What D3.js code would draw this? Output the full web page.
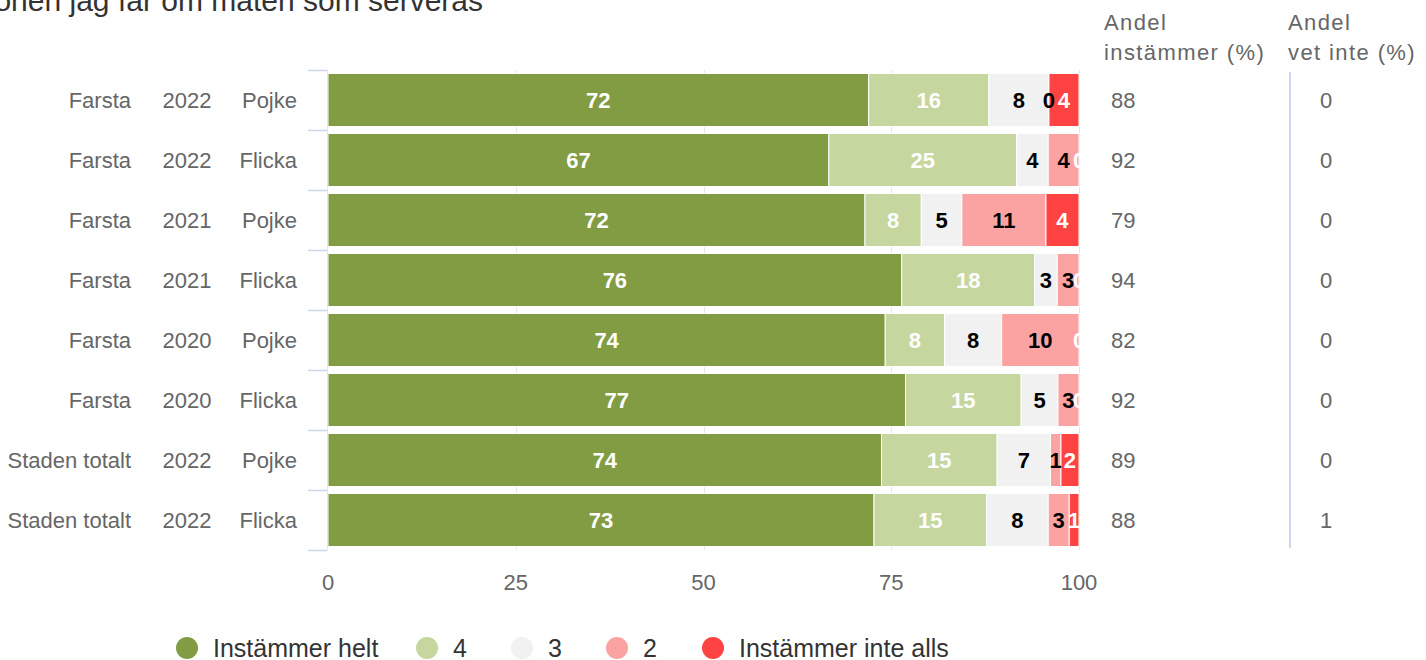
<!DOCTYPE html>
<html>
<head>
<meta charset="utf-8">
<script src="https://cdn.jsdelivr.net/npm/d3@7"></script>
<style>
  html, body { margin: 0; padding: 0; background: #fff; }
  svg { display: block; font-family: "Liberation Sans", Arial, Helvetica, sans-serif; }
</style>
</head>
<body>
<svg id="chart" width="1426" height="660"></svg>
<script>
// ---- data ----
const titleText = "onen jag får om maten som serveras";
const units = ["Farsta", "Farsta", "Farsta", "Farsta", "Farsta", "Farsta", "Staden totalt", "Staden totalt"];
const years = ["2022", "2022", "2021", "2021", "2020", "2020", "2022", "2022"];
const genders = ["Pojke", "Flicka", "Pojke", "Flicka", "Pojke", "Flicka", "Pojke", "Flicka"];
const seriesNames = ["Instämmer helt", "4", "3", "2", "Instämmer inte alls"];
const helt = [72, 66.7, 71.5, 76.4, 74.2, 76.9, 73.7, 72.7];
const fyra = [16, 25, 7.5, 17.7, 7.9, 15.4, 15.4, 15.0];
const tre = [8, 4.2, 5.4, 3.0, 7.6, 4.9, 7.1, 8.2];
const tva = [0, 4.1, 11.2, 2.9, 10.3, 2.8, 1.4, 2.8];
const inteAlls = [4, 0, 4.4, 0, 0, 0, 2.4, 1.3];
const andelInstammer = [88, 92, 79, 94, 82, 92, 89, 88];
const andelVetInte = [0, 0, 0, 0, 0, 0, 0, 1];
const xTicks = [0, 25, 50, 75, 100];
const colHeaders = [["Andel", "instämmer (%)"], ["Andel", "vet inte (%)"]];

// ---- styles ----
const colors = ["#829c43", "#c5d69e", "#f1f1f1", "#fba3a3", "#ff4242"];
const labelColors = ["#ffffff", "#ffffff", "#000000", "#000000", "#ffffff"];
const seriesData = [helt, fyra, tre, tva, inteAlls];

const svg = d3.select("#chart");
const plot = { left: 328, right: 1079, top: 70, bottom: 550 };

const x = d3.scaleLinear().domain([0, 100]).range([plot.left, plot.right]);
const idx = d3.range(units.length);
const y = d3.scaleBand().domain(idx).range([plot.top, plot.bottom])
  .paddingInner(0.117).paddingOuter(0.0585);
const rowStep = (plot.bottom - plot.top) / idx.length;

// title
svg.append("text").attr("x", 483).attr("y", 11).attr("text-anchor", "end")
  .attr("font-size", 30).attr("fill", "#333").text(titleText);

// gridlines
svg.append("g").selectAll("line").data(xTicks.slice(1)).join("line")
  .attr("x1", d => Math.round(x(d)) + 0.5).attr("x2", d => Math.round(x(d)) + 0.5)
  .attr("y1", plot.top).attr("y2", plot.bottom)
  .attr("stroke", "#e6e6e6").attr("stroke-width", 1);

// stacked bars
const stackRows = idx.map(i => {
  const o = { i };
  seriesNames.forEach((s, k) => o[s] = seriesData[k][i]);
  return o;
});
const stacked = d3.stack().keys(seriesNames)(stackRows);

const defs = svg.append("defs");
defs.append("clipPath").attr("id", "plotclip").append("rect")
  .attr("x", plot.left - 20).attr("y", plot.top).attr("width", plot.right - plot.left + 21).attr("height", plot.bottom - plot.top);

const barG = svg.append("g");
stacked.forEach((layer, k) => {
  barG.append("g").selectAll("rect").data(layer).join("rect")
    .attr("x", d => x(d[0]))
    .attr("y", d => y(d.data.i))
    .attr("width", d => Math.max(0, x(d[1]) - x(d[0])))
    .attr("height", y.bandwidth())
    .attr("fill", colors[k])
    .attr("stroke", "#fff").attr("stroke-width", 1);
});

const lblG = svg.append("g").attr("clip-path", "url(#plotclip)");
stacked.forEach((layer, k) => {
  lblG.append("g").selectAll("text").data(layer).join("text")
    .attr("x", d => (x(d[0]) + x(d[1])) / 2)
    .attr("y", d => y(d.data.i) + y.bandwidth() / 2)
    .attr("dy", "0.35em")
    .attr("text-anchor", "middle")
    .attr("font-size", 22).attr("font-weight", "bold")
    .attr("fill", labelColors[k])
    .text(d => Math.round(d[1] - d[0]));
});

// category axis
svg.append("line").attr("x1", 327.5).attr("x2", 327.5).attr("y1", plot.top).attr("y2", plot.bottom)
  .attr("stroke", "#e3e6ec").attr("stroke-width", 1);
svg.append("g").selectAll("line").data(d3.range(idx.length + 1)).join("line")
  .attr("x1", 308).attr("x2", 327)
  .attr("y1", d => plot.top + d * rowStep + 0.5).attr("y2", d => plot.top + d * rowStep + 0.5)
  .attr("stroke", "#ccd6eb").attr("stroke-width", 1.5);

const catG = svg.append("g").attr("font-size", 22).attr("fill", "#666");
idx.forEach(i => {
  const cy = y(i) + y.bandwidth() / 2;
  catG.append("text").attr("x", 131).attr("y", cy).attr("dy", "0.35em").attr("text-anchor", "end").text(units[i]);
  catG.append("text").attr("x", 187).attr("y", cy).attr("dy", "0.35em").attr("text-anchor", "middle").text(years[i]);
  catG.append("text").attr("x", 297).attr("y", cy).attr("dy", "0.35em").attr("text-anchor", "end").text(genders[i]);
});

// x axis labels
svg.append("g").selectAll("text").data(xTicks).join("text")
  .attr("x", d => x(d)).attr("y", 582).attr("dy", "0.35em")
  .attr("text-anchor", "middle").attr("font-size", 22).attr("fill", "#666")
  .text(d => d);

// extra columns
const colG = svg.append("g").attr("font-size", 22).attr("fill", "#666");
colHeaders.forEach((lines, c) => {
  const hx = c === 0 ? 1104 : 1288;
  lines.forEach((t, j) => {
    colG.append("text").attr("x", hx).attr("y", 22 + j * 30).attr("dy", "0.35em")
      .attr("letter-spacing", 1.4).text(t);
  });
});
idx.forEach(i => {
  const cy = y(i) + y.bandwidth() / 2;
  colG.append("text").attr("x", 1111).attr("y", cy).attr("dy", "0.35em").text(andelInstammer[i]);
  colG.append("text").attr("x", 1326).attr("y", cy).attr("dy", "0.35em").attr("text-anchor", "middle").text(andelVetInte[i]);
});
svg.append("line").attr("x1", 1290).attr("x2", 1290).attr("y1", 72).attr("y2", 548)
  .attr("stroke", "#ccd6eb").attr("stroke-width", 2);

// legend
const legendX = [187, 427, 522, 617, 713];
const legG = svg.append("g");
seriesNames.forEach((s, k) => {
  legG.append("circle").attr("cx", legendX[k]).attr("cy", 648).attr("r", 11).attr("fill", colors[k]);
  legG.append("text").attr("x", legendX[k] + 26).attr("y", 648).attr("dy", "0.35em")
    .attr("font-size", 25).attr("fill", "#333").text(s);
});
</script>
</body>
</html>
